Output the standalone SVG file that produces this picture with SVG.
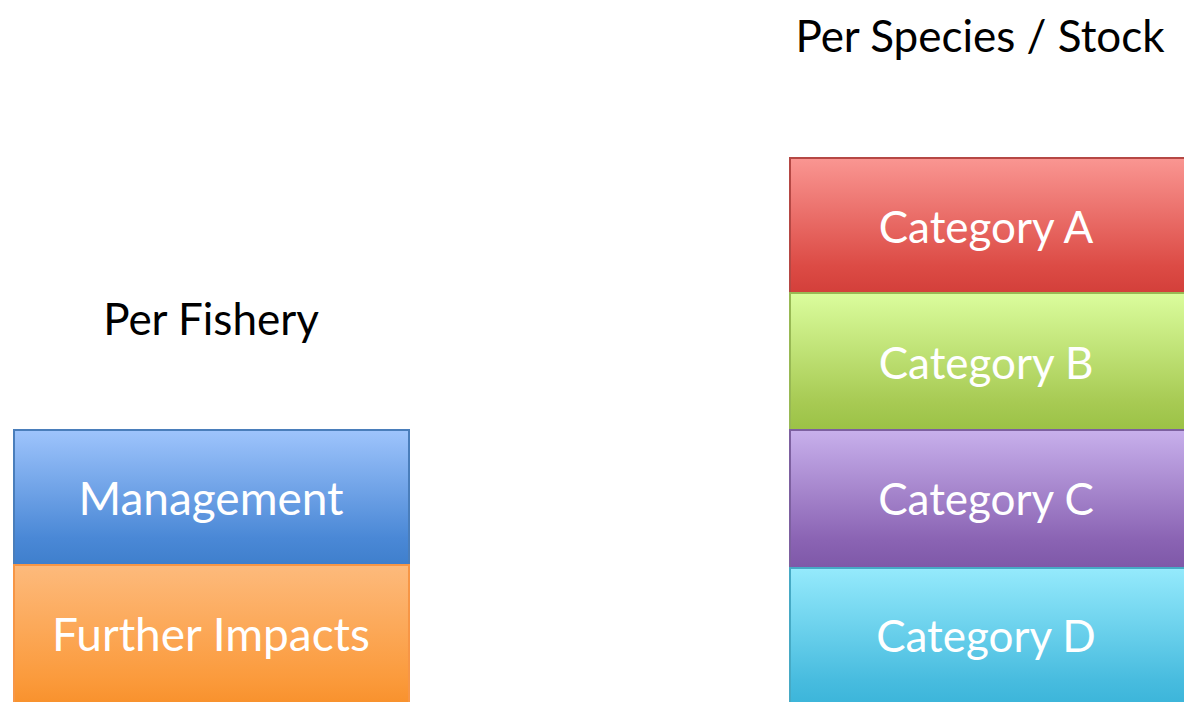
<svg xmlns="http://www.w3.org/2000/svg" width="1184" height="702" viewBox="0 0 1184 702">
<defs>
<linearGradient id="gBlue" x1="0" y1="0" x2="0" y2="1"><stop offset="0" stop-color="#9ec4fc"/><stop offset="0.8" stop-color="#4a88d6"/><stop offset="1" stop-color="#3f7fcc"/></linearGradient>
<linearGradient id="gOrange" x1="0" y1="0" x2="0" y2="1"><stop offset="0" stop-color="#fdba7c"/><stop offset="0.8" stop-color="#fb9b3d"/><stop offset="1" stop-color="#f8912c"/></linearGradient>
<linearGradient id="gRed" x1="0" y1="0" x2="0" y2="1"><stop offset="0" stop-color="#fa9692"/><stop offset="0.8" stop-color="#dc4b45"/><stop offset="1" stop-color="#d33f3a"/></linearGradient>
<linearGradient id="gGreen" x1="0" y1="0" x2="0" y2="1"><stop offset="0" stop-color="#dbfd9d"/><stop offset="0.8" stop-color="#a7ca53"/><stop offset="1" stop-color="#9bc246"/></linearGradient>
<linearGradient id="gPurple" x1="0" y1="0" x2="0" y2="1"><stop offset="0" stop-color="#c8b0ec"/><stop offset="0.8" stop-color="#8a63b3"/><stop offset="1" stop-color="#7e58a8"/></linearGradient>
<linearGradient id="gCyan" x1="0" y1="0" x2="0" y2="1"><stop offset="0" stop-color="#95eafc"/><stop offset="0.8" stop-color="#48bcdf"/><stop offset="1" stop-color="#3ab4d9"/></linearGradient>
</defs>
<style>
.lbl{font-family:Lato,"Open Sans","Liberation Sans",sans-serif;font-size:44px;fill:#ffffff;text-anchor:middle}
.lbl2{font-size:46px}
.hdr{font-family:Lato,"Open Sans","Liberation Sans",sans-serif;font-size:44px;fill:#000000;text-anchor:middle}
.box{stroke-width:2}
</style>
<rect width="1184" height="702" fill="#ffffff"/>
<g id="title-fishery"><text class="hdr" x="211" y="335">Per Fishery</text></g>
<g id="title-species"><text class="hdr" x="980" y="52">Per Species / Stock</text></g>
<g id="management"><rect class="box" x="14" y="430" width="395" height="135" fill="url(#gBlue)" stroke="#4a7ebb"/><text class="lbl lbl2" x="211" y="515">Management</text></g>
<g id="further-impacts"><rect class="box" x="14" y="565" width="395" height="140" fill="url(#gOrange)" stroke="#f79646"/><text class="lbl lbl2" x="211" y="651">Further Impacts</text></g>
<g id="category-a"><rect class="box" x="790" y="158" width="398" height="135" fill="url(#gRed)" stroke="#b54844"/><text class="lbl" x="986" y="243">Category A</text></g>
<g id="category-b"><rect class="box" x="790" y="293" width="398" height="137" fill="url(#gGreen)" stroke="#98b954"/><text class="lbl" x="986" y="379">Category B</text></g>
<g id="category-c"><rect class="box" x="790" y="430" width="398" height="138" fill="url(#gPurple)" stroke="#7d60a0"/><text class="lbl" x="986" y="515">Category C</text></g>
<g id="category-d"><rect class="box" x="790" y="568" width="398" height="140" fill="url(#gCyan)" stroke="#46aac5"/><text class="lbl" x="986" y="652">Category D</text></g>
<g id="connectors"/>
</svg>
